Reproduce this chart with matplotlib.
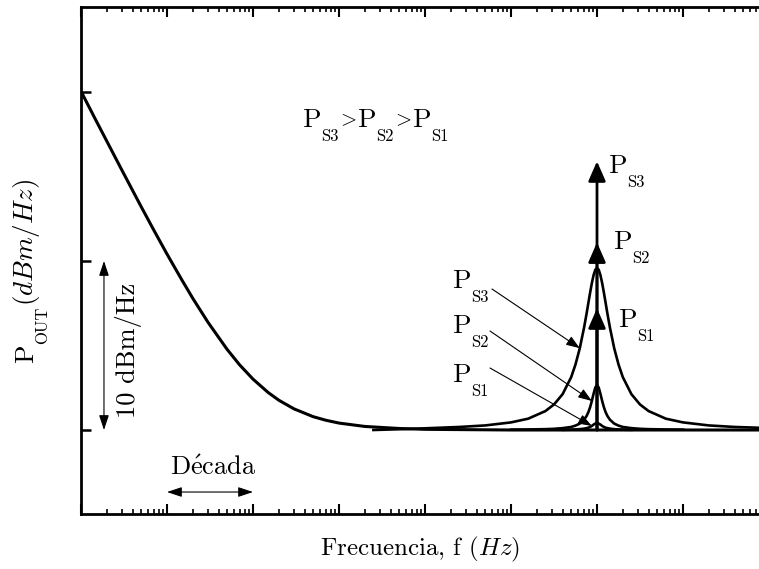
import numpy as np
import matplotlib
matplotlib.use("Agg")
import matplotlib.pyplot as plt
from matplotlib.ticker import LogLocator, NullLocator, NullFormatter

plt.rcParams['font.family'] = 'cmr10'
plt.rcParams['mathtext.fontset'] = 'cm'
plt.rcParams['axes.unicode_minus'] = False
plt.rcParams['axes.formatter.use_mathtext'] = True

# ---------------- data ----------------
# background 1/f noise (dB above floor) vs frequency (Hz)
noise_freq = [1, 1.5, 2, 3, 5, 7, 10, 15, 20, 30, 50, 70, 100, 150, 200, 300,
              500, 700, 1e3, 2e3, 5e3, 1e4, 1e5, 1e6, 1e7, 7.66e7]
noise_db = [20.04, 18.30, 17.08, 15.36, 13.22, 11.84, 10.41, 8.85, 7.78, 6.37,
            4.77, 3.85, 3.01, 2.22, 1.76, 1.25, 0.79, 0.58, 0.41, 0.21, 0.09,
            0.04, 0.0, 0.0, 0.0, 0.0]

tone_freq = 1e6  # centre of the spurious tones

# peak for P_S3: offsets in decades from tone_freq and level (dB)
ps3_off = [-2.6, -2.2, -1.9, -1.6, -1.3, -1.0, -0.8, -0.6, -0.5, -0.4, -0.3,
           -0.25, -0.2, -0.15, -0.12, -0.1, -0.08, -0.06, -0.04, -0.02, 0.0,
           0.02, 0.04, 0.06, 0.08, 0.1, 0.12, 0.15, 0.2, 0.25, 0.3, 0.4, 0.5,
           0.6, 0.8, 1.0, 1.3, 1.6, 1.9]
ps3_db = [0.0, 0.06, 0.12, 0.18, 0.27, 0.45, 0.67, 1.12, 1.51, 2.12, 3.13,
          3.88, 4.84, 6.07, 6.92, 7.53, 8.13, 8.69, 9.16, 9.48, 9.59,
          9.48, 9.16, 8.69, 8.13, 7.53, 6.92, 6.07, 4.84, 3.88, 3.13, 2.12, 1.51,
          1.12, 0.67, 0.45, 0.27, 0.18, 0.13]

# peak for P_S2
ps2_off = [-1.0, -0.8, -0.6, -0.5, -0.4, -0.3, -0.25, -0.2, -0.15, -0.12, -0.1,
           -0.08, -0.06, -0.04, -0.02, 0.0, 0.02, 0.04, 0.06, 0.08, 0.1, 0.12,
           0.15, 0.2, 0.25, 0.3, 0.4, 0.5, 0.6, 0.8, 1.0]
ps2_db = [0.02, 0.03, 0.05, 0.07, 0.11, 0.18, 0.26, 0.38, 0.61, 0.84, 1.06,
          1.35, 1.72, 2.14, 2.51, 2.66, 2.51, 2.14, 1.72, 1.35, 1.06, 0.84,
          0.61, 0.38, 0.26, 0.18, 0.11, 0.07, 0.05, 0.03, 0.02]

# peak for P_S1
ps1_off = [-0.4, -0.3, -0.2, -0.15, -0.12, -0.1, -0.08, -0.06, -0.04, -0.02,
           0.0, 0.02, 0.04, 0.06, 0.08, 0.1, 0.12, 0.15, 0.2, 0.3, 0.4]
ps1_db = [0.01, 0.02, 0.05, 0.08, 0.11, 0.14, 0.18, 0.24, 0.32, 0.38, 0.41,
          0.38, 0.32, 0.24, 0.18, 0.14, 0.11, 0.08, 0.05, 0.02, 0.01]

# impulse arrow tips (dB) for P_S1, P_S2, P_S3
impulse_tips = [7.2, 11.1, 15.9]
sub_names = ['S1', 'S2', 'S3']

y_ticks = [0, 10, 20]
scale_db = 10            # vertical scale bar
decade = [10, 100]       # horizontal scale bar

# ---------------- figure ----------------
W, H = 759, 569
fig = plt.figure(figsize=(W / 100, H / 100), dpi=100)
ax = fig.add_axes([81 / W, 1 - 514 / H, 678 / W, (514 - 6.5) / H])


def fx(px):
    return px / W


def fy(py):
    return 1 - py / H


ax.set_xscale('log')
ax.set_xlim(1, 10 ** (678 / 86))
ax.set_ylim((430 - 514) / 16.9, (430 - 6.5) / 16.9)

lw_curve = 2.2
ax.plot(noise_freq, noise_db, color='k', lw=lw_curve, solid_capstyle='butt')
for off, db in [(ps3_off, ps3_db), (ps2_off, ps2_db), (ps1_off, ps1_db)]:
    f = tone_freq * 10 ** np.array(off)
    ax.plot(f, db, color='k', lw=1.9)

# impulse arrows
for tip in impulse_tips:
    ax.annotate('', xy=(tone_freq, tip), xytext=(tone_freq, 0),
                arrowprops=dict(arrowstyle='-|>,head_length=0.8,head_width=0.35',
                                lw=2.0, color='k', shrinkA=0, shrinkB=0,
                                mutation_scale=15))

# spines / ticks
for s in ['left', 'bottom', 'top']:
    ax.spines[s].set_linewidth(2.0)
ax.spines['right'].set_visible(False)
ax.set_yticks(y_ticks)
ax.yaxis.set_minor_locator(NullLocator())
ax.set_yticklabels([])
ax.xaxis.set_major_locator(LogLocator(base=10, numticks=100))
ax.xaxis.set_minor_locator(LogLocator(base=10, subs=np.arange(2, 10), numticks=100))
ax.xaxis.set_major_formatter(NullFormatter())
ax.xaxis.set_minor_formatter(NullFormatter())
ax.tick_params(axis='x', which='major', direction='in', length=7, width=1.5, top=True)
ax.tick_params(axis='x', which='minor', direction='in', length=3.5, width=1.2, top=True)
ax.tick_params(axis='y', which='major', direction='in', length=7, width=1.8, right=False)


# ---------------- text helpers ----------------
BIG = 19.5
SUB = 12


def chain_h(x0, y0, parts):
    """parts: list of (text, size, dy_pt, gap_pt); first at (x0,y0) px baseline."""
    t, size, dy, gap = parts[0]
    prev = fig.text(fx(x0), fy(y0), t, fontsize=size, ha='left', va='baseline')
    for t, size, dy, gap in parts[1:]:
        prev = ax.annotate(t, xy=(1, fy(y0)), xycoords=(prev, 'figure fraction'),
                           xytext=(gap, dy), textcoords='offset points',
                           fontsize=size, ha='left', va='baseline')
    return prev


def chain_v(x0, y0, parts):
    t, size, dy, gap = parts[0]
    prev = fig.text(fx(x0), fy(y0), t, fontsize=size, ha='left', va='baseline',
                    rotation=90, rotation_mode='anchor')
    for t, size, dy, gap in parts[1:]:
        prev = ax.annotate(t, xy=(fx(x0), 1), xycoords=('figure fraction', prev),
                           xytext=(-dy, gap), textcoords='offset points',
                           fontsize=size, ha='left', va='baseline',
                           rotation=90, rotation_mode='anchor')
    return prev


def p_label(x0, y0, sub):
    return chain_h(x0, y0, [('P', BIG, 0, 0), (sub, SUB, -10, 0.2)])


# top relation
chain_h(302, 127, [('P', BIG, 0, 0), ('S3', SUB, -10, 0.2), ('$>$', 15, 1.0, -0.6),
                   ('P', BIG, 0, -0.4), ('S2', SUB, -10, 0.2), ('$>$', 15, 1.0, -0.6),
                   ('P', BIG, 0, -0.4), ('S1', SUB, -10, 0.2)])

# labels next to impulse arrows
for (px, py), s in zip([(618, 327), (613, 249), (608, 173)], sub_names):
    p_label(px, py, s)

# labels with thin arrows pointing at peak curves
left_pos = {'S3': (452, 288), 'S2': (452, 333), 'S1': (452, 382)}
arrow_from = {'S3': (492, 289), 'S2': (490, 331), 'S1': (490, 368)}
arrow_to = {'S3': (ps3_off, ps3_db, -0.2), 'S2': (ps2_off, ps2_db, -0.06),
            'S1': (ps1_off, ps1_db, -0.06)}
for s in ['S3', 'S2', 'S1']:
    p_label(*left_pos[s], s)
    off, db, d = arrow_to[s]
    i = off.index(d)
    sx, sy = arrow_from[s]
    ax.annotate('', xy=(tone_freq * 10 ** off[i], db[i]), xycoords='data',
                xytext=(fx(sx), fy(sy)), textcoords='figure fraction',
                arrowprops=dict(arrowstyle='-|>,head_length=0.55,head_width=0.2',
                                lw=0.8, color='k', shrinkA=0, shrinkB=0,
                                mutation_scale=15))

# y label
chain_v(33, 363, [('P', BIG, 0, 0), ('OUT', SUB, -10, 0.2), ('($dBm/Hz$)', BIG, 0, 0.3)])

# vertical scale bar
ax.annotate('', xy=(1.85, scale_db), xytext=(1.85, 0),
            arrowprops=dict(arrowstyle='<|-|>,head_length=0.6,head_width=0.2',
                            lw=0.8, color='k', shrinkA=0, shrinkB=0, mutation_scale=15))
fig.text(fx(128), fy(350), '10 dBm/Hz', fontsize=19, rotation=90,
         ha='center', va='center')

# horizontal decade bar
ax.annotate('', xy=(decade[1], -3.67), xytext=(decade[0], -3.67),
            arrowprops=dict(arrowstyle='<|-|>,head_length=0.6,head_width=0.2',
                            lw=0.8, color='k', shrinkA=0, shrinkB=0, mutation_scale=15))
fig.text(fx(213), fy(475), r'D$\mathrm{\acute{e}}$cada', fontsize=19,
         ha='center', va='baseline')

# x label
fig.text(fx(420), fy(549), r'Frecuencia, f ($Hz$)', fontsize=18,
         ha='center', va='center')

fig.savefig('out.png', dpi=100)
